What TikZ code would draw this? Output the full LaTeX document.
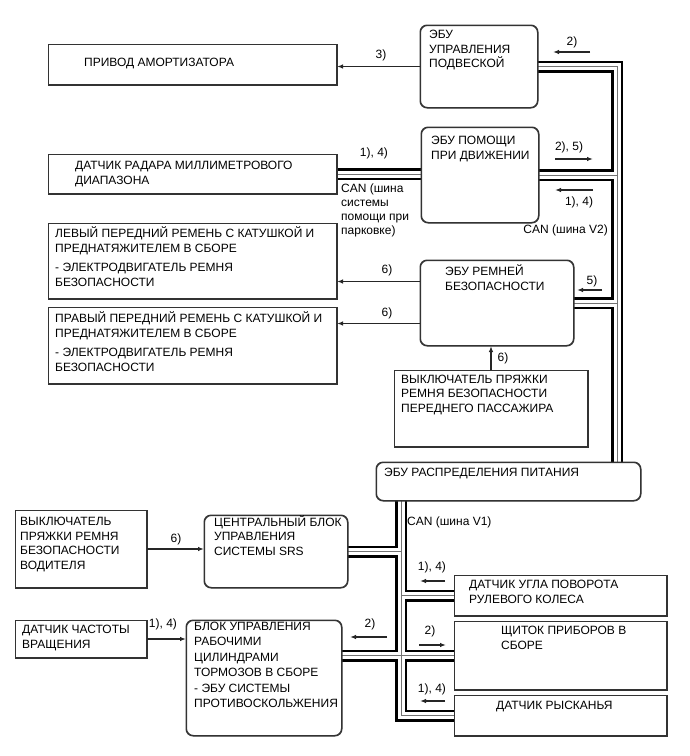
\documentclass[tikz,border=0pt]{standalone}
\usepackage{fontspec}
\setmainfont{Liberation Sans}
\usetikzlibrary{arrows.meta}
\newcommand\mystrut{\rule{0pt}{12pt}}
\begin{document}
\begin{tikzpicture}[x=1pt,y=-1pt,
  box/.style={draw=black!80, line width=1pt, fill=white, inner sep=0pt, anchor=north west},
  rbox/.style={box, rounded corners=7pt},
  txt/.style={inner sep=0pt, anchor=north west, align=left, font=\fontsize{12}{14.5}\selectfont},
  lbl/.style={inner sep=0pt, font=\fontsize{12}{14.5}\selectfont},
  arr/.style={draw=black!85, line width=1.2pt, -{Latex[length=6pt,width=4.5pt]}},
  busout/.style={line width=12pt, black, line join=miter},
  busin/.style={line width=7pt, white, line join=miter},
  busmid/.style={line width=0.8pt, black!55}]
\useasboundingbox[fill=white] (0,0) rectangle (689,756);
% ---------- boxes (geometry) ----------
\path
  (48,44)   node[box,  minimum width=288pt, minimum height=40pt] (amort) {}
  (420,25)  node[rbox, minimum width=117pt, minimum height=82pt] (ecuS) {}
  (48,154)  node[box,  minimum width=288pt, minimum height=39pt] (radar) {}
  (421,127) node[rbox, minimum width=117pt, minimum height=95pt] (ecuA) {}
  (48,223)  node[box,  minimum width=288pt, minimum height=75pt] (beltL) {}
  (48,307)  node[box,  minimum width=288pt, minimum height=76pt] (beltR) {}
  (420,260) node[rbox, minimum width=153pt, minimum height=85pt] (ecuB) {}
  (394,370) node[box,  minimum width=193pt, minimum height=76pt] (pass) {}
  (376,462) node[rbox, minimum width=264pt, minimum height=38pt] (power) {}
  (15,510)  node[box,  minimum width=131pt, minimum height=77pt] (driver) {}
  (204,515) node[rbox, minimum width=143pt, minimum height=72pt] (srs) {}
  (454,575) node[box,  minimum width=212pt, minimum height=40pt] (steer) {}
  (15,620)  node[box,  minimum width=131pt, minimum height=37pt] (speed) {}
  (186,620) node[rbox, minimum width=155pt, minimum height=115pt] (brake) {}
  (454,621) node[box,  minimum width=212pt, minimum height=68pt] (cluster) {}
  (454,695) node[box,  minimum width=212pt, minimum height=40pt] (yaw) {};
\coordinate (v2) at (617,0);
\coordinate (v1) at (401,0);
% ---------- CAN buses ----------
\foreach \s in {busout,busin,busmid}{
  \draw[\s] (ecuS.east) -| (v2 |- power.north);
  \draw[\s] (ecuA.east) -- (ecuA.east -| v2);
  \draw[\s] (ecuB.east) -- (ecuB.east -| v2);
  \draw[\s] (radar.east) -- (radar.east -| ecuA.west);
  \draw[\s] (power.south -| v1) |- (yaw.west);
  \draw[\s] (srs.east) -- (srs.east -| v1);
  \draw[\s] (steer.west -| v1) -- (steer.west);
  \draw[\s] (brake.east |- cluster.west) -- (cluster.west);
}
% redraw box outlines on top
\foreach \n in {amort,radar,beltL,beltR,pass,driver,steer,speed,cluster,yaw}{
  \draw[draw=black!80, line width=1pt] (\n.north west) rectangle (\n.south east);
}
\foreach \n in {ecuS,ecuA,ecuB,power,srs,brake}{
  \draw[draw=black!80, line width=1pt, rounded corners=7pt] (\n.north west) rectangle (\n.south east);
}
% ---------- texts ----------
\node[txt] (t-amort) at (84,54.3) {\mystrut ПРИВОД АМОРТИЗАТОРА};
\node[txt] (t-ecuS) at (429,26.3) {\mystrut ЭБУ\\УПРАВЛЕНИЯ\\ПОДВЕСКОЙ};
\node[txt] (t-radar) at (75,157.3) {\mystrut ДАТЧИК РАДАРА МИЛЛИМЕТРОВОГО\\ДИАПАЗОНА};
\node[txt] (t-ecuA) at (431,132.3) {\mystrut ЭБУ ПОМОЩИ\\ПРИ ДВИЖЕНИИ};
\node[txt, font=\fontsize{12}{14}\selectfont] (t-canp) at (341,180.3) {\mystrut CAN (шина\\системы\\помощи при\\парковке)};
\node[txt] (t-beltL) at (55,225.3) {\mystrut ЛЕВЫЙ ПЕРЕДНИЙ РЕМЕНЬ С КАТУШКОЙ И\\ПРЕДНАТЯЖИТЕЛЕМ В СБОРЕ\\[5pt]- ЭЛЕКТРОДВИГАТЕЛЬ РЕМНЯ\\БЕЗОПАСНОСТИ};
\node[txt] (t-beltR) at (55,310.3) {\mystrut ПРАВЫЙ ПЕРЕДНИЙ РЕМЕНЬ С КАТУШКОЙ И\\ПРЕДНАТЯЖИТЕЛЕМ В СБОРЕ\\[5pt]- ЭЛЕКТРОДВИГАТЕЛЬ РЕМНЯ\\БЕЗОПАСНОСТИ};
\node[txt] (t-ecuB) at (445,263.3) {\mystrut ЭБУ РЕМНЕЙ\\БЕЗОПАСНОСТИ};
\node[txt] (t-pass) at (401,371) {\mystrut ВЫКЛЮЧАТЕЛЬ ПРЯЖКИ\\РЕМНЯ БЕЗОПАСНОСТИ\\ПЕРЕДНЕГО ПАССАЖИРА};
\node[txt] (t-power) at (384,464.3) {\mystrut ЭБУ РАСПРЕДЕЛЕНИЯ ПИТАНИЯ};
\node[txt] (t-canv1) at (407,513.3) {\mystrut CAN (шина V1)};
\node[txt, font=\fontsize{12}{14.5}\selectfont] (t-driver) at (20,513.3) {\mystrut ВЫКЛЮЧАТЕЛЬ\\ПРЯЖКИ РЕМНЯ\\БЕЗОПАСНОСТИ\\ВОДИТЕЛЯ};
\node[txt, font=\fontsize{12}{14.5}\selectfont] (t-srs) at (214,514) {\mystrut ЦЕНТРАЛЬНЫЙ БЛОК\\УПРАВЛЕНИЯ\\СИСТЕМЫ SRS};
\node[txt] (t-steer) at (469,576.5) {\mystrut ДАТЧИК УГЛА ПОВОРОТА\\РУЛЕВОГО КОЛЕСА};
\node[txt] (t-speed) at (22,621.5) {\mystrut ДАТЧИК ЧАСТОТЫ\\ВРАЩЕНИЯ};
\node[txt, font=\fontsize{12}{15.5}\selectfont] (t-brake) at (194,618) {\mystrut БЛОК УПРАВЛЕНИЯ\\РАБОЧИМИ\\ЦИЛИНДРАМИ\\ТОРМОЗОВ В СБОРЕ\\- ЭБУ СИСТЕМЫ\\ПРОТИВОСКОЛЬЖЕНИЯ};
\node[txt] (t-cluster) at (501,622.5) {\mystrut ЩИТОК ПРИБОРОВ В\\СБОРЕ};
\node[txt] (t-yaw) at (496,697) {\mystrut ДАТЧИК РЫСКАНЬЯ};
\node[txt, anchor=north east] (t-canv2) at (608,221.3) {\mystrut CAN (шина V2)};
% ---------- arrows between nodes ----------
\draw[arr] (ecuS.west) -- (ecuS.west -| amort.east);
\draw[arr] ([yshift=21.5pt]ecuB.west) -- ([yshift=21.5pt]ecuB.west -| beltL.east);
\draw[arr] ([yshift=-20.5pt]ecuB.west) -- ([yshift=-20.5pt]ecuB.west -| beltR.east);
\draw[arr] (pass.north) -- (pass.north |- ecuB.south);
\draw[arr] (driver.east) -- (driver.east -| srs.west);
\draw[arr] (speed.east) -- (speed.east -| brake.west);
% ---------- indicator arrows ----------
\coordinate (i1a) at (590,52);  \coordinate (i1b) at (553,52);
\coordinate (i2a) at (555,159); \coordinate (i2b) at (593,159);
\coordinate (i3a) at (593,190); \coordinate (i3b) at (555,190);
\coordinate (i4a) at (602,290); \coordinate (i4b) at (577,290);
\coordinate (i5a) at (445,581); \coordinate (i5b) at (420,581);
\coordinate (i6a) at (387,637); \coordinate (i6b) at (350,637);
\coordinate (i7a) at (419,645); \coordinate (i7b) at (446,645);
\coordinate (i8a) at (445,701); \coordinate (i8b) at (420,701);
\foreach \i in {1,...,8}{\draw[arr] (i\i a) -- (i\i b);}
% ---------- labels ----------
\node[lbl] (l3)  at (381,55)  {3)};
\node[lbl] (l2a) at (572,42)  {2)};
\node[lbl] (l14a) at (374,153) {1), 4)};
\node[lbl] (l25) at (569,147) {2), 5)};
\node[lbl] (l14b) at (579,202) {1), 4)};
\node[lbl] (l5)  at (592,281) {5)};
\node[lbl] (l6a) at (387,270) {6)};
\node[lbl] (l6b) at (387,313) {6)};
\node[lbl] (l6c) at (503,358) {6)};
\node[lbl] (l6d) at (176,539) {6)};
\node[lbl] (l14c) at (432,567) {1), 4)};
\node[lbl] (l14d) at (163,624) {1), 4)};
\node[lbl] (l2b) at (370,624) {2)};
\node[lbl] (l2c) at (430,631) {2)};
\node[lbl] (l14e) at (432,689) {1), 4)};
\end{tikzpicture}
\end{document}
